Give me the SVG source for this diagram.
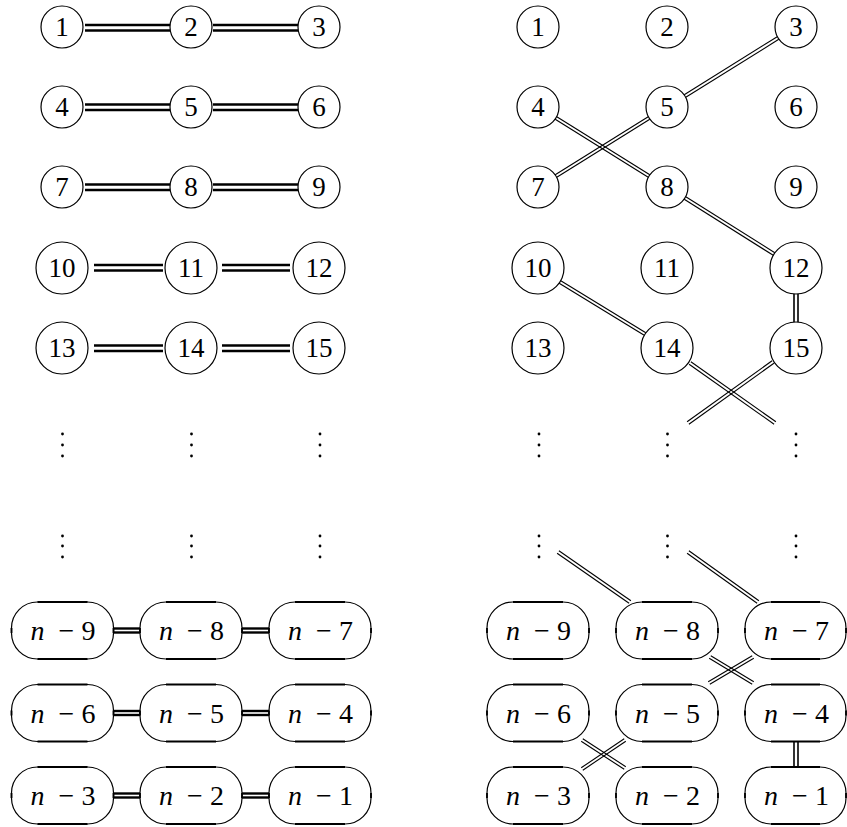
<svg xmlns="http://www.w3.org/2000/svg" width="847" height="827" viewBox="0 0 847 827">
<style>
  .bg{fill:#fff}
  .node circle{fill:none;stroke:#000;stroke-width:1.2}
  .pill rect{fill:none;stroke:#000;stroke-width:1.2}
  .pill .bar{stroke:#000;stroke-width:2.2;fill:none}
  .pill .tick{stroke:#000;stroke-width:1.8;fill:none}
  text{font-family:"Liberation Serif","Times New Roman",serif;font-size:27px;fill:#000;text-anchor:middle}
  .pl{font-size:28px}
  .it{font-style:italic}
  .dl line{stroke:#000;stroke-width:2.4}
  .dr line{stroke:#000;stroke-width:1.1}
  .dv line{stroke:#000;stroke-width:1.6}
  .dots circle{fill:#000}
</style>
<rect class="bg" x="0" y="0" width="847" height="827"/>

<!-- Left panel nodes -->
<g id="L1" class="node"><circle cx="62" cy="27" r="21"/><text x="62" y="36">1</text></g>
<g id="L2" class="node"><circle cx="191" cy="27" r="21"/><text x="191" y="36">2</text></g>
<g id="L3" class="node"><circle cx="319" cy="27" r="21"/><text x="319" y="36">3</text></g>
<g id="L4" class="node"><circle cx="62" cy="107" r="21"/><text x="62" y="116">4</text></g>
<g id="L5" class="node"><circle cx="191" cy="107" r="21"/><text x="191" y="116">5</text></g>
<g id="L6" class="node"><circle cx="319" cy="107" r="21"/><text x="319" y="116">6</text></g>
<g id="L7" class="node"><circle cx="62" cy="187" r="21"/><text x="62" y="196">7</text></g>
<g id="L8" class="node"><circle cx="191" cy="187" r="21"/><text x="191" y="196">8</text></g>
<g id="L9" class="node"><circle cx="319" cy="187" r="21"/><text x="319" y="196">9</text></g>
<g id="L10" class="node"><circle cx="62" cy="268" r="26"/><text x="62" y="277">10</text></g>
<g id="L11" class="node"><circle cx="191" cy="268" r="26"/><text x="191" y="277">11</text></g>
<g id="L12" class="node"><circle cx="319" cy="268" r="26"/><text x="319" y="277">12</text></g>
<g id="L13" class="node"><circle cx="62" cy="348" r="26"/><text x="62" y="357">13</text></g>
<g id="L14" class="node"><circle cx="191" cy="348" r="26"/><text x="191" y="357">14</text></g>
<g id="L15" class="node"><circle cx="319" cy="348" r="26"/><text x="319" y="357">15</text></g>

<!-- Left dots -->
<g id="Ldots" class="dots">
  <circle cx="62.5" cy="434" r="1.4"/><circle cx="62.5" cy="445" r="1.4"/><circle cx="62.5" cy="456" r="1.4"/>
  <circle cx="191.5" cy="434" r="1.4"/><circle cx="191.5" cy="445" r="1.4"/><circle cx="191.5" cy="456" r="1.4"/>
  <circle cx="320" cy="434" r="1.4"/><circle cx="320" cy="445" r="1.4"/><circle cx="320" cy="456" r="1.4"/>
  <circle cx="62.5" cy="536" r="1.4"/><circle cx="62.5" cy="546" r="1.4"/><circle cx="62.5" cy="557" r="1.4"/>
  <circle cx="191.5" cy="536" r="1.4"/><circle cx="191.5" cy="546" r="1.4"/><circle cx="191.5" cy="557" r="1.4"/>
  <circle cx="320" cy="536" r="1.4"/><circle cx="320" cy="546" r="1.4"/><circle cx="320" cy="557" r="1.4"/>
</g>

<!-- Left pills -->
<g id="Ln9" class="pill"><rect x="11.5" y="602" width="102" height="57" rx="26" ry="26"/><path class="bar" d="M37.5 602H87.5M37.5 659H87.5"/><path class="tick" d="M11.5 628V633M113.5 628V633"/><text class="pl" y="640"><tspan class="it" x="37.5">n</tspan><tspan x="66.5">−</tspan><tspan x="88.5">9</tspan></text></g>
<g id="Ln8" class="pill"><rect x="140" y="602" width="102" height="57" rx="26" ry="26"/><path class="bar" d="M166 602H216M166 659H216"/><path class="tick" d="M140 628V633M242 628V633"/><text class="pl" y="640"><tspan class="it" x="166">n</tspan><tspan x="195">−</tspan><tspan x="217">8</tspan></text></g>
<g id="Ln7" class="pill"><rect x="269" y="602" width="102" height="57" rx="26" ry="26"/><path class="bar" d="M295 602H345M295 659H345"/><path class="tick" d="M269 628V633M371 628V633"/><text class="pl" y="640"><tspan class="it" x="295">n</tspan><tspan x="324">−</tspan><tspan x="346">7</tspan></text></g>
<g id="Ln6" class="pill"><rect x="11.5" y="684.5" width="102" height="57" rx="26" ry="26"/><path class="bar" d="M37.5 684.5H87.5M37.5 741.5H87.5"/><path class="tick" d="M11.5 710.5V715.5M113.5 710.5V715.5"/><text class="pl" y="722.5"><tspan class="it" x="37.5">n</tspan><tspan x="66.5">−</tspan><tspan x="88.5">6</tspan></text></g>
<g id="Ln5" class="pill"><rect x="140" y="684.5" width="102" height="57" rx="26" ry="26"/><path class="bar" d="M166 684.5H216M166 741.5H216"/><path class="tick" d="M140 710.5V715.5M242 710.5V715.5"/><text class="pl" y="722.5"><tspan class="it" x="166">n</tspan><tspan x="195">−</tspan><tspan x="217">5</tspan></text></g>
<g id="Ln4" class="pill"><rect x="269" y="684.5" width="102" height="57" rx="26" ry="26"/><path class="bar" d="M295 684.5H345M295 741.5H345"/><path class="tick" d="M269 710.5V715.5M371 710.5V715.5"/><text class="pl" y="722.5"><tspan class="it" x="295">n</tspan><tspan x="324">−</tspan><tspan x="346">4</tspan></text></g>
<g id="Ln3" class="pill"><rect x="11.5" y="767" width="102" height="57" rx="26" ry="26"/><path class="bar" d="M37.5 767H87.5M37.5 824H87.5"/><path class="tick" d="M11.5 793V798M113.5 793V798"/><text class="pl" y="805"><tspan class="it" x="37.5">n</tspan><tspan x="66.5">−</tspan><tspan x="88.5">3</tspan></text></g>
<g id="Ln2" class="pill"><rect x="140" y="767" width="102" height="57" rx="26" ry="26"/><path class="bar" d="M166 767H216M166 824H216"/><path class="tick" d="M140 793V798M242 793V798"/><text class="pl" y="805"><tspan class="it" x="166">n</tspan><tspan x="195">−</tspan><tspan x="217">2</tspan></text></g>
<g id="Ln1" class="pill"><rect x="269" y="767" width="102" height="57" rx="26" ry="26"/><path class="bar" d="M295 767H345M295 824H345"/><path class="tick" d="M269 793V798M371 793V798"/><text class="pl" y="805"><tspan class="it" x="295">n</tspan><tspan x="324">−</tspan><tspan x="346">1</tspan></text></g>

<!-- Right panel nodes -->
<g id="R1" class="node"><circle cx="538" cy="27" r="21"/><text x="538" y="36">1</text></g>
<g id="R2" class="node"><circle cx="667" cy="27" r="21"/><text x="667" y="36">2</text></g>
<g id="R3" class="node"><circle cx="796" cy="27" r="21"/><text x="796" y="36">3</text></g>
<g id="R4" class="node"><circle cx="538" cy="107" r="21"/><text x="538" y="116">4</text></g>
<g id="R5" class="node"><circle cx="667" cy="107" r="21"/><text x="667" y="116">5</text></g>
<g id="R6" class="node"><circle cx="796" cy="107" r="21"/><text x="796" y="116">6</text></g>
<g id="R7" class="node"><circle cx="538" cy="187" r="21"/><text x="538" y="196">7</text></g>
<g id="R8" class="node"><circle cx="667" cy="187" r="21"/><text x="667" y="196">8</text></g>
<g id="R9" class="node"><circle cx="796" cy="187" r="21"/><text x="796" y="196">9</text></g>
<g id="R10" class="node"><circle cx="538" cy="268" r="26"/><text x="538" y="277">10</text></g>
<g id="R11" class="node"><circle cx="667" cy="268" r="26"/><text x="667" y="277">11</text></g>
<g id="R12" class="node"><circle cx="796" cy="268" r="26"/><text x="796" y="277">12</text></g>
<g id="R13" class="node"><circle cx="538" cy="348" r="26"/><text x="538" y="357">13</text></g>
<g id="R14" class="node"><circle cx="667" cy="348" r="26"/><text x="667" y="357">14</text></g>
<g id="R15" class="node"><circle cx="796" cy="348" r="26"/><text x="796" y="357">15</text></g>

<!-- Right dots -->
<g id="Rdots" class="dots">
  <circle cx="539" cy="434" r="1.4"/><circle cx="539" cy="445" r="1.4"/><circle cx="539" cy="456" r="1.4"/>
  <circle cx="667.5" cy="434" r="1.4"/><circle cx="667.5" cy="445" r="1.4"/><circle cx="667.5" cy="456" r="1.4"/>
  <circle cx="796" cy="434" r="1.4"/><circle cx="796" cy="445" r="1.4"/><circle cx="796" cy="456" r="1.4"/>
  <circle cx="539" cy="536" r="1.4"/><circle cx="539" cy="546" r="1.4"/><circle cx="539" cy="557" r="1.4"/>
  <circle cx="667.5" cy="536" r="1.4"/><circle cx="667.5" cy="546" r="1.4"/><circle cx="667.5" cy="557" r="1.4"/>
  <circle cx="796" cy="536" r="1.4"/><circle cx="796" cy="546" r="1.4"/><circle cx="796" cy="557" r="1.4"/>
</g>

<!-- Right pills -->
<g id="Rn9" class="pill"><rect x="487" y="602" width="102" height="57" rx="26" ry="26"/><path class="bar" d="M513 602H563M513 659H563"/><path class="tick" d="M487 628V633M589 628V633"/><text class="pl" y="640"><tspan class="it" x="513">n</tspan><tspan x="542">−</tspan><tspan x="564">9</tspan></text></g>
<g id="Rn8" class="pill"><rect x="616" y="602" width="102" height="57" rx="26" ry="26"/><path class="bar" d="M642 602H692M642 659H692"/><path class="tick" d="M616 628V633M718 628V633"/><text class="pl" y="640"><tspan class="it" x="642">n</tspan><tspan x="671">−</tspan><tspan x="693">8</tspan></text></g>
<g id="Rn7" class="pill"><rect x="745" y="602" width="101" height="57" rx="26" ry="26"/><path class="bar" d="M771 602H820M771 659H820"/><path class="tick" d="M745 628V633M846 628V633"/><text class="pl" y="640"><tspan class="it" x="771">n</tspan><tspan x="800">−</tspan><tspan x="822">7</tspan></text></g>
<g id="Rn6" class="pill"><rect x="487" y="684.5" width="102" height="57" rx="26" ry="26"/><path class="bar" d="M513 684.5H563M513 741.5H563"/><path class="tick" d="M487 710.5V715.5M589 710.5V715.5"/><text class="pl" y="722.5"><tspan class="it" x="513">n</tspan><tspan x="542">−</tspan><tspan x="564">6</tspan></text></g>
<g id="Rn5" class="pill"><rect x="616" y="684.5" width="102" height="57" rx="26" ry="26"/><path class="bar" d="M642 684.5H692M642 741.5H692"/><path class="tick" d="M616 710.5V715.5M718 710.5V715.5"/><text class="pl" y="722.5"><tspan class="it" x="642">n</tspan><tspan x="671">−</tspan><tspan x="693">5</tspan></text></g>
<g id="Rn4" class="pill"><rect x="745" y="684.5" width="101" height="57" rx="26" ry="26"/><path class="bar" d="M771 684.5H820M771 741.5H820"/><path class="tick" d="M745 710.5V715.5M846 710.5V715.5"/><text class="pl" y="722.5"><tspan class="it" x="771">n</tspan><tspan x="800">−</tspan><tspan x="822">4</tspan></text></g>
<g id="Rn3" class="pill"><rect x="487" y="767" width="102" height="57" rx="26" ry="26"/><path class="bar" d="M513 767H563M513 824H563"/><path class="tick" d="M487 793V798M589 793V798"/><text class="pl" y="805"><tspan class="it" x="513">n</tspan><tspan x="542">−</tspan><tspan x="564">3</tspan></text></g>
<g id="Rn2" class="pill"><rect x="616" y="767" width="102" height="57" rx="26" ry="26"/><path class="bar" d="M642 767H692M642 824H692"/><path class="tick" d="M616 793V798M718 793V798"/><text class="pl" y="805"><tspan class="it" x="642">n</tspan><tspan x="671">−</tspan><tspan x="693">2</tspan></text></g>
<g id="Rn1" class="pill"><rect x="745" y="767" width="101" height="57" rx="26" ry="26"/><path class="bar" d="M771 767H820M771 824H820"/><path class="tick" d="M745 793V798M846 793V798"/><text class="pl" y="805"><tspan class="it" x="771">n</tspan><tspan x="800">−</tspan><tspan x="822">1</tspan></text></g>

<!-- Connectors -->
<g id="connectors">
  <g class="dl">
    <line x1="85" y1="25" x2="170" y2="25"/><line x1="85" y1="30.5" x2="170" y2="30.5"/>
    <line x1="213" y1="25" x2="298" y2="25"/><line x1="213" y1="30.5" x2="298" y2="30.5"/>
    <line x1="85" y1="104.5" x2="170" y2="104.5"/><line x1="85" y1="110" x2="170" y2="110"/>
    <line x1="213" y1="104.5" x2="298" y2="104.5"/><line x1="213" y1="110" x2="298" y2="110"/>
    <line x1="85" y1="184.5" x2="170" y2="184.5"/><line x1="85" y1="190" x2="170" y2="190"/>
    <line x1="213" y1="184.5" x2="298" y2="184.5"/><line x1="213" y1="190" x2="298" y2="190"/>
    <line x1="94" y1="265" x2="163" y2="265"/><line x1="94" y1="270.5" x2="163" y2="270.5"/>
    <line x1="222" y1="265" x2="290" y2="265"/><line x1="222" y1="270.5" x2="290" y2="270.5"/>
    <line x1="94" y1="345.5" x2="163" y2="345.5"/><line x1="94" y1="351" x2="163" y2="351"/>
    <line x1="222" y1="345.5" x2="290" y2="345.5"/><line x1="222" y1="351" x2="290" y2="351"/>
    <line x1="113" y1="628.5" x2="140" y2="628.5"/><line x1="113" y1="632.5" x2="140" y2="632.5"/>
    <line x1="242" y1="628.5" x2="269" y2="628.5"/><line x1="242" y1="632.5" x2="269" y2="632.5"/>
    <line x1="113" y1="711" x2="140" y2="711"/><line x1="113" y1="715" x2="140" y2="715"/>
    <line x1="242" y1="711" x2="269" y2="711"/><line x1="242" y1="715" x2="269" y2="715"/>
    <line x1="113" y1="793.5" x2="140" y2="793.5"/><line x1="113" y1="797.5" x2="140" y2="797.5"/>
    <line x1="242" y1="793.5" x2="269" y2="793.5"/><line x1="242" y1="797.5" x2="269" y2="797.5"/>
  </g>
  <g class="dr">
    <line x1="777.2" y1="36.7" x2="684.2" y2="94.7"/><line x1="778.8" y1="39.3" x2="685.8" y2="97.3"/>
    <line x1="555.2" y1="119.3" x2="648.2" y2="177.3"/><line x1="556.8" y1="116.7" x2="649.8" y2="174.7"/>
    <line x1="648.2" y1="116.7" x2="555.2" y2="174.7"/><line x1="649.8" y1="119.3" x2="556.8" y2="177.3"/>
    <line x1="684.2" y1="199.3" x2="773.2" y2="255.3"/><line x1="685.8" y1="196.7" x2="774.8" y2="252.7"/>
    <line x1="559.2" y1="283.3" x2="644.2" y2="335.3"/><line x1="560.8" y1="280.7" x2="645.8" y2="332.7"/>
    <line x1="689.1" y1="364.2" x2="774.1" y2="424.2"/><line x1="690.9" y1="361.8" x2="775.9" y2="421.8"/>
    <line x1="772.1" y1="360.8" x2="687.1" y2="421.8"/><line x1="773.9" y1="363.2" x2="688.9" y2="424.2"/>
    <line x1="557.1" y1="553.2" x2="629.1" y2="603.2"/><line x1="558.9" y1="550.8" x2="630.9" y2="600.8"/>
    <line x1="687.1" y1="553.2" x2="757.1" y2="603.2"/><line x1="688.9" y1="550.8" x2="758.9" y2="600.8"/>
    <line x1="709.2" y1="658.3" x2="752.2" y2="684.3"/><line x1="710.8" y1="655.7" x2="753.8" y2="681.7"/>
    <line x1="752.2" y1="655.7" x2="708.2" y2="681.7"/><line x1="753.8" y1="658.3" x2="709.8" y2="684.3"/>
    <line x1="581.2" y1="741.3" x2="624.2" y2="769.3"/><line x1="582.8" y1="738.7" x2="625.8" y2="766.7"/>
    <line x1="624.2" y1="738.8" x2="581.2" y2="767.8"/><line x1="625.8" y1="741.2" x2="582.8" y2="770.2"/>
  </g>
  <g class="dv">
    <line x1="794" y1="294" x2="794" y2="322"/><line x1="798" y1="294" x2="798" y2="322"/>
    <line x1="794" y1="741.5" x2="794" y2="767"/><line x1="798" y1="741.5" x2="798" y2="767"/>
  </g>
</g>
</svg>
